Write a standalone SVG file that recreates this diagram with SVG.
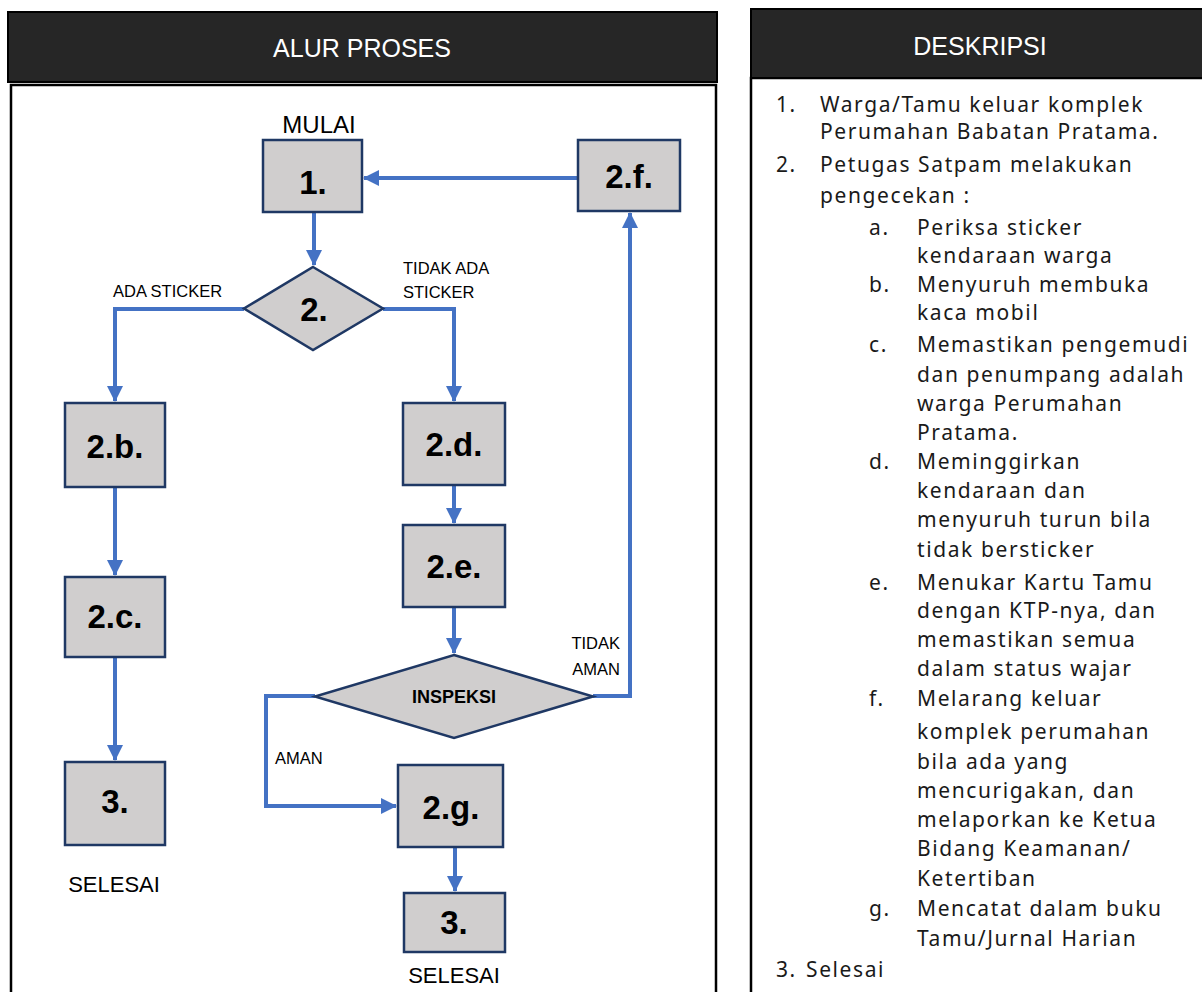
<svg xmlns="http://www.w3.org/2000/svg" width="1202" height="992" viewBox="0 0 1202 992">
<style>
.hdr{fill:#262626;stroke:#000;stroke-width:2}
.panel{fill:#fff;stroke:#000;stroke-width:2.5}
.htxt{font-family:"Liberation Sans",Arial,sans-serif;font-size:25px;fill:#fff;text-anchor:middle}
.box{fill:#d0cece;stroke:#1f3864;stroke-width:2.5}
.num{font-family:"Liberation Sans",Arial,sans-serif;font-weight:bold;font-size:33px;fill:#000;text-anchor:middle}
.lbl{font-family:"Liberation Sans",Arial,sans-serif;font-size:16.5px;fill:#000}
.big{font-family:"Liberation Sans",Arial,sans-serif;font-size:22px;fill:#000;text-anchor:middle}
.con{fill:none;stroke:#4472c4;stroke-width:4}
.desc{font-family:"Noto Sans",sans-serif;font-size:21px;fill:#1a1a1a;letter-spacing:1.6px}
</style>
<defs>
<marker id="arr" markerUnits="userSpaceOnUse" markerWidth="16" markerHeight="16" viewBox="0 0 16 16" refX="15" refY="8" orient="auto">
<path d="M0,0 L16,8 L0,16 Z" fill="#4472c4"/>
</marker>
</defs>
<g id="left-panel">
<rect class="panel" x="11" y="85" width="705" height="920"/>
<rect class="hdr" x="8" y="12" width="709" height="70"/>
<text class="htxt" x="362" y="57">ALUR PROSES</text>
</g>
<g id="right-panel">
<rect class="panel" x="751" y="78" width="470" height="930"/>
<rect class="hdr" x="751" y="9" width="470" height="69"/>
<text class="htxt" x="980" y="55">DESKRIPSI</text>
</g>
<g id="connectors">
<path class="con" d="M314,212 L314,265" marker-end="url(#arr)"/>
<path class="con" d="M244,309 L115,309 L115,401" marker-end="url(#arr)"/>
<path class="con" d="M383,309 L454,309 L454,401" marker-end="url(#arr)"/>
<path class="con" d="M115,487 L115,575" marker-end="url(#arr)"/>
<path class="con" d="M115,657 L115,760" marker-end="url(#arr)"/>
<path class="con" d="M454,485 L454,523" marker-end="url(#arr)"/>
<path class="con" d="M454,607 L454,653" marker-end="url(#arr)"/>
<path class="con" d="M593,696 L630,696 L630,213" marker-end="url(#arr)"/>
<path class="con" d="M578,178 L364,178" marker-end="url(#arr)"/>
<path class="con" d="M315,696 L266,696 L266,806 L396,806" marker-end="url(#arr)"/>
<path class="con" d="M455,847 L455,891" marker-end="url(#arr)"/>
</g>
<g id="node-1">
<rect class="box" x="263" y="140" width="99" height="72"/>
<text class="num" x="313" y="194">1.</text>
<text class="big" x="319" y="133" style="font-size:24px">MULAI</text>
</g>
<g id="node-2f">
<rect class="box" x="578" y="140" width="102" height="71"/>
<text class="num" x="629" y="188">2.f.</text>
</g>
<g id="node-2">
<polygon class="box" points="313,267 383,308.5 313,350 244,308.5"/>
<text class="num" x="314" y="321">2.</text>
</g>
<g id="node-2b">
<rect class="box" x="65" y="403" width="100" height="84"/>
<text class="num" x="115" y="458">2.b.</text>
</g>
<g id="node-2d">
<rect class="box" x="403" y="403" width="102" height="82"/>
<text class="num" x="454" y="456">2.d.</text>
</g>
<g id="node-2e">
<rect class="box" x="403" y="525" width="102" height="82"/>
<text class="num" x="454" y="578">2.e.</text>
</g>
<g id="node-2c">
<rect class="box" x="65" y="577" width="100" height="80"/>
<text class="num" x="115" y="628">2.c.</text>
</g>
<g id="node-inspeksi">
<polygon class="box" points="454,655 593,696.5 454,738 315,696.5"/>
<text class="num" x="454" y="703" style="font-size:18px">INSPEKSI</text>
</g>
<g id="node-3a">
<rect class="box" x="65" y="762" width="100" height="83"/>
<text class="num" x="115" y="813">3.</text>
<text class="big" x="114" y="892">SELESAI</text>
</g>
<g id="node-2g">
<rect class="box" x="398" y="765" width="105" height="82"/>
<text class="num" x="451" y="819">2.g.</text>
</g>
<g id="node-3b">
<rect class="box" x="404" y="893" width="101" height="59"/>
<text class="num" x="454" y="934">3.</text>
<text class="big" x="454" y="983">SELESAI</text>
</g>
<g id="labels">
<text class="lbl" x="113" y="297">ADA STICKER</text>
<text class="lbl" x="403" y="274">TIDAK ADA</text>
<text class="lbl" x="403" y="298">STICKER</text>
<text class="lbl" x="620" y="649" text-anchor="end">TIDAK</text>
<text class="lbl" x="620" y="675" text-anchor="end">AMAN</text>
<text class="lbl" x="275" y="764">AMAN</text>
</g>
<g id="description">
<text class="desc" x="776" y="112">1.</text>
<text class="desc" x="820" y="112">Warga/Tamu keluar komplek</text>
<text class="desc" x="820" y="139">Perumahan Babatan Pratama.</text>
<text class="desc" x="776" y="172">2.</text>
<text class="desc" x="820" y="172">Petugas Satpam melakukan</text>
<text class="desc" x="820" y="203">pengecekan :</text>
<text class="desc" x="869" y="235">a.</text>
<text class="desc" x="917" y="235">Periksa sticker</text>
<text class="desc" x="917" y="263">kendaraan warga</text>
<text class="desc" x="869" y="292">b.</text>
<text class="desc" x="917" y="292">Menyuruh membuka</text>
<text class="desc" x="917" y="320">kaca mobil</text>
<text class="desc" x="869" y="352">c.</text>
<text class="desc" x="917" y="352">Memastikan pengemudi</text>
<text class="desc" x="917" y="382">dan penumpang adalah</text>
<text class="desc" x="917" y="411">warga Perumahan</text>
<text class="desc" x="917" y="440">Pratama.</text>
<text class="desc" x="869" y="469">d.</text>
<text class="desc" x="917" y="469">Meminggirkan</text>
<text class="desc" x="917" y="498">kendaraan dan</text>
<text class="desc" x="917" y="527">menyuruh turun bila</text>
<text class="desc" x="917" y="557">tidak bersticker</text>
<text class="desc" x="869" y="590">e.</text>
<text class="desc" x="917" y="590">Menukar Kartu Tamu</text>
<text class="desc" x="917" y="618">dengan KTP-nya, dan</text>
<text class="desc" x="917" y="647">memastikan semua</text>
<text class="desc" x="917" y="676">dalam status wajar</text>
<text class="desc" x="869" y="706">f.</text>
<text class="desc" x="917" y="706">Melarang keluar</text>
<text class="desc" x="917" y="739">komplek perumahan</text>
<text class="desc" x="917" y="769">bila ada yang</text>
<text class="desc" x="917" y="798">mencurigakan, dan</text>
<text class="desc" x="917" y="827">melaporkan ke Ketua</text>
<text class="desc" x="917" y="856">Bidang Keamanan/</text>
<text class="desc" x="917" y="886">Ketertiban</text>
<text class="desc" x="869" y="916">g.</text>
<text class="desc" x="917" y="916">Mencatat dalam buku</text>
<text class="desc" x="917" y="946">Tamu/Jurnal Harian</text>
<text class="desc" x="776" y="977">3.</text>
<text class="desc" x="806" y="977">Selesai</text>
</g>
</svg>
